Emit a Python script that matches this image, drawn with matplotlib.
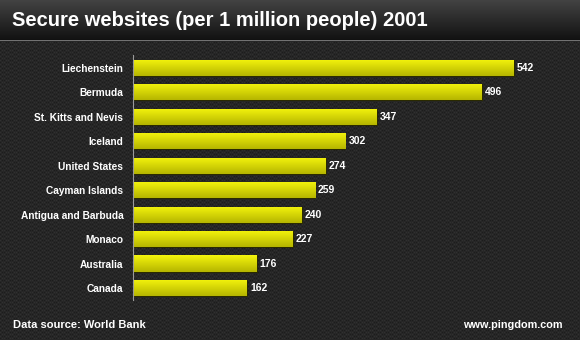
import numpy as np
import matplotlib
matplotlib.use("Agg")
import matplotlib.pyplot as plt

countries = ["Liechenstein", "Bermuda", "St. Kitts and Nevis", "Iceland", "United States",
             "Cayman Islands", "Antigua and Barbuda", "Monaco", "Australia", "Canada"]
websites = [542, 496, 347, 302, 274, 259, 240, 227, 176, 162]

W, H = 580, 340
fig = plt.figure(figsize=(W / 100, H / 100), dpi=100)
fig.patch.set_facecolor("#1c1c1c")

# carbon-fibre style background texture
bg = fig.add_axes([0, 0, 1, 1], zorder=0)
yy, xx = np.mgrid[0:H, 0:W]
tex = 0.5 + 0.5 * np.cos(2 * np.pi * xx / 4.0) * np.cos(2 * np.pi * (yy + 2 * ((xx // 4) % 2)) / 4.0)
base = np.array([0.11, 0.11, 0.11])
img = base[None, None, :] + 0.08 * tex[..., None]
# title band gradient
band = 40
g = np.linspace(0.26, 0.07, band)
img[:band] = g[:, None, None] * np.ones((band, W, 3))
img[band:band + 1] = 0.45
bg.imshow(np.clip(img, 0, 1), aspect="auto", extent=[0, W, H, 0], interpolation="bilinear")
bg.set_xlim(0, W)
bg.set_ylim(H, 0)
bg.axis("off")

# bar area
x0, x1 = 133, 565
y_top, y_bot = 55, 300
ax = fig.add_axes([x0 / W, 1 - y_bot / H, (x1 - x0) / W, (y_bot - y_top) / H], zorder=1)
ax.patch.set_alpha(0)
ypos = np.arange(len(countries))
bars = ax.barh(ypos, websites, height=0.66, color="#d6d600", edgecolor="#2a2a00", linewidth=0.8)

# vertical gradient on each bar
grad = np.linspace(0, 1, 64)[:, None]
cols = np.zeros((64, 1, 3))
cols[..., 0] = (0.96 - 0.25 * grad)
cols[..., 1] = (0.96 - 0.25 * grad)
cols[..., 2] = 0.05 * (1 - grad)
for b in bars:
    x, y, w, h = b.get_x(), b.get_y(), b.get_width(), b.get_height()
    im = ax.imshow(cols, extent=[x, x + w, y + h, y], aspect="auto", zorder=2)
    im.set_clip_path(b)

scale = (514 - x0) / websites[0]
ax.set_xlim(0, (x1 - x0) / scale)
ax.set_ylim(9.49, -0.53)

for i, v in enumerate(websites):
    ax.text(v + 3 / scale, i, str(v), color="white", fontsize=7.5, fontweight="bold",
            va="center", ha="left", family="Liberation Sans", zorder=3)

ax.set_yticks(ypos)
ax.set_yticklabels(countries, color="white", fontsize=7.3, fontweight="bold", family="Liberation Sans")
ax.tick_params(axis="y", length=0, pad=7)
ax.set_xticks([])
for s in ["top", "right", "bottom"]:
    ax.spines[s].set_visible(False)
ax.spines["left"].set_color("#9a9a9a")
ax.spines["left"].set_linewidth(0.8)

fig.text(12 / W, 1 - 21 / H, "Secure websites (per 1 million people) 2001", color="white",
         fontsize=14.5, fontweight="bold", va="center", ha="left", family="Liberation Sans")
fig.text(13 / W, 1 - 325 / H, "Data source: World Bank", color="white",
         fontsize=8, fontweight="bold", va="center", ha="left", family="Liberation Sans")
fig.text(563 / W, 1 - 325 / H, "www.pingdom.com", color="white",
         fontsize=7.8, fontweight="bold", va="center", ha="right", family="Liberation Sans")

fig.savefig("out.png", dpi=100, facecolor=fig.get_facecolor())
